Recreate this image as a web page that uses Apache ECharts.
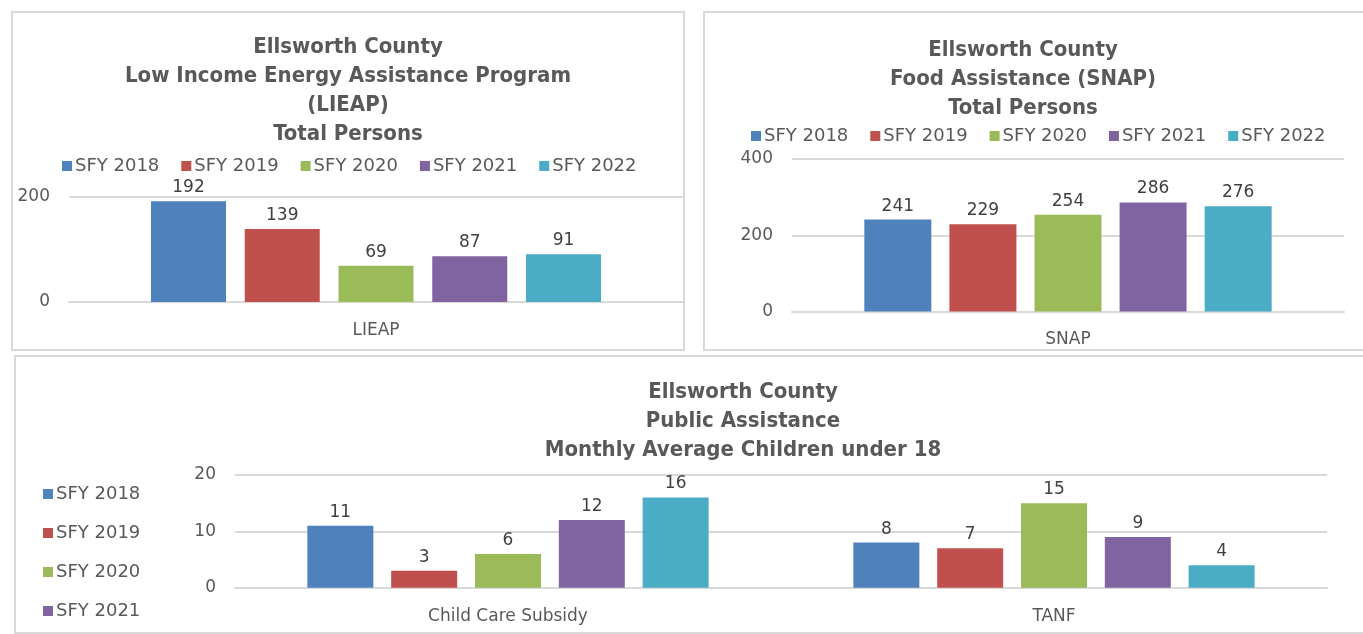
<!DOCTYPE html>
<html>
<head>
<meta charset="utf-8">
<script src="https://cdn.jsdelivr.net/npm/echarts@6/dist/echarts.min.js"></script>
<style>
  html, body { margin: 0; padding: 0; background: #ffffff; }
  #chart { width: 1363px; height: 634px; }
</style>
</head>
<body>
<div id="chart"></div>
<script>
// Fiscal years and their colours
const years = ['SFY 2018', 'SFY 2019', 'SFY 2020', 'SFY 2021', 'SFY 2022'];
const yearColors = ['#4F81BD', '#C0504D', '#9BBB59', '#8064A2', '#4BACC6'];

// Low Income Energy Assistance Program, total persons
const lieapCategories = ['LIEAP'];
const lieapValues = [192, 139, 69, 87, 91];

// Food Assistance (SNAP), total persons
const snapCategories = ['SNAP'];
const snapValues = [241, 229, 254, 286, 276];

// Public Assistance, monthly average children under 18
const paCategories = ['Child Care Subsidy', 'TANF'];
const childCareValues = [11, 3, 6, 12, 16];
const tanfValues = [8, 7, 15, 9, 4];

// Value axis ranges
const lieapAxis = { max: 200, interval: 200 };
const snapAxis = { max: 400, interval: 200 };
const paAxis = { max: 20, interval: 10 };

const textColor = '#595959';
const labelColor = '#404040';
const gridColor = '#D9D9D9';
const bodyFont = 'DejaVu Sans';
const titleFont = 'DejaVu Sans Condensed, DejaVu Sans';

const chart = echarts.init(document.getElementById('chart'), null, { renderer: 'canvas' });

function titleBlock(text, centerX, top) {
  return {
    text: text,
    left: centerX,
    top: top,
    textAlign: 'center',
    textStyle: {
      fontFamily: titleFont, fontWeight: 'bold', fontSize: 22,
      lineHeight: 29, color: textColor
    }
  };
}

function legendBlock(opts) {
  return Object.assign({
    data: years,
    icon: 'rect',
    itemWidth: 10,
    itemHeight: 10,
    selectedMode: false,
    textStyle: {
      fontFamily: bodyFont, fontSize: 18, color: textColor, lineHeight: 20,
      padding: [0, 0, 0, -2]
    }
  }, opts);
}

function categoryAxis(gridIndex, data) {
  return {
    type: 'category', gridIndex: gridIndex, data: data,
    axisLine: { lineStyle: { color: gridColor, width: 2 } },
    axisTick: { show: false },
    axisLabel: { margin: 20, fontFamily: bodyFont, fontSize: 17, color: textColor }
  };
}

function valueAxis(gridIndex, range) {
  return {
    type: 'value', gridIndex: gridIndex, min: 0, max: range.max, interval: range.interval,
    axisLine: { show: false },
    axisTick: { show: false },
    splitLine: { lineStyle: { color: gridColor, width: 2 } },
    axisLabel: { margin: 19, fontFamily: bodyFont, fontSize: 17, color: textColor }
  };
}

function barSeries(axisIndex, name, color, data, width, gap) {
  return {
    type: 'bar', name: name, xAxisIndex: axisIndex, yAxisIndex: axisIndex,
    data: data, barWidth: width, barGap: gap,
    itemStyle: { color: color },
    label: {
      show: true, position: 'top', distance: 5,
      fontFamily: bodyFont, fontSize: 17, color: labelColor
    }
  };
}

const series = [];
years.forEach((y, i) => {
  series.push(barSeries(0, y, yearColors[i], [lieapValues[i]], 75, '25%'));
});
years.forEach((y, i) => {
  series.push(barSeries(1, y, yearColors[i], [snapValues[i]], 67, '27%'));
});
years.forEach((y, i) => {
  series.push(barSeries(2, y, yearColors[i], [childCareValues[i], tanfValues[i]], 66, '27%'));
});

const option = {
  animation: false,
  backgroundColor: '#ffffff',
  graphic: [
    { type: 'rect', shape: { x: 12, y: 12, width: 672, height: 338 },
      style: { fill: 'none', stroke: gridColor, lineWidth: 2 }, silent: true },
    { type: 'rect', shape: { x: 704, y: 12, width: 700, height: 338 },
      style: { fill: 'none', stroke: gridColor, lineWidth: 2 }, silent: true },
    { type: 'rect', shape: { x: 15, y: 356, width: 1400, height: 277 },
      style: { fill: 'none', stroke: gridColor, lineWidth: 2 }, silent: true }
  ],
  title: [
    titleBlock('Ellsworth County\nLow Income Energy Assistance Program\n(LIEAP)\nTotal Persons', 343, 28),
    titleBlock('Ellsworth County\nFood Assistance (SNAP)\nTotal Persons', 1018, 31),
    titleBlock('Ellsworth County\nPublic Assistance\nMonthly Average Children under 18', 738, 373)
  ],
  legend: [
    legendBlock({ left: 57, top: 151, orient: 'horizontal', itemGap: 22 }),
    legendBlock({ left: 746, top: 121, orient: 'horizontal', itemGap: 22 }),
    legendBlock({ left: 38, top: 479, height: 300, orient: 'vertical', itemGap: 19 })
  ],
  grid: [
    { left: 69, top: 197, width: 614, height: 105 },
    { left: 792, top: 159, width: 552, height: 152.5 },
    { left: 235, top: 475, width: 1092, height: 112.7 }
  ],
  xAxis: [
    categoryAxis(0, lieapCategories),
    categoryAxis(1, snapCategories),
    categoryAxis(2, paCategories)
  ],
  yAxis: [
    valueAxis(0, lieapAxis),
    valueAxis(1, snapAxis),
    valueAxis(2, paAxis)
  ],
  series: series
};

chart.setOption(option);
</script>
</body>
</html>
